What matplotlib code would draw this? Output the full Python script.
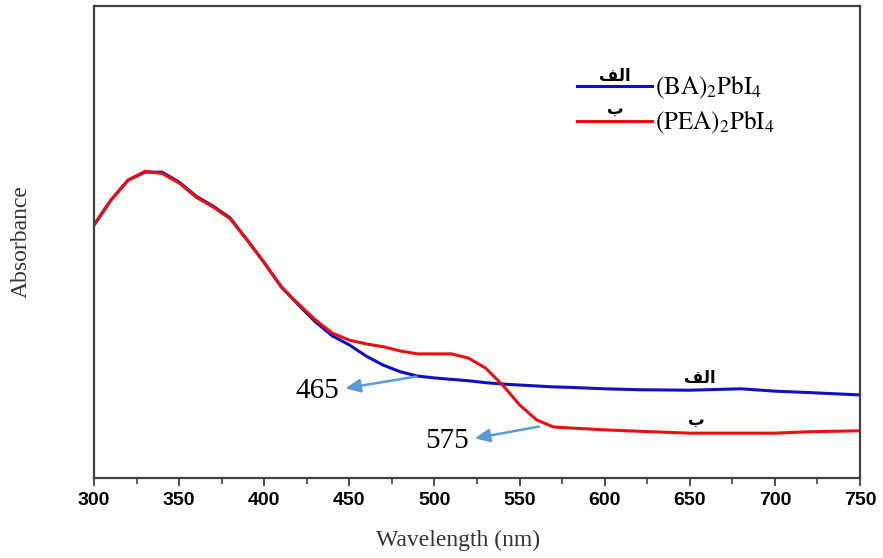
import matplotlib
matplotlib.use("Agg")
import matplotlib.pyplot as plt
from matplotlib.ticker import MultipleLocator

plt.rcParams['mathtext.fontset'] = 'stix'

wl = [300, 310, 320, 330, 340, 350, 360, 370, 380, 390, 400, 410, 420, 430,
      440, 450, 460, 470, 480, 490, 500, 510, 520, 530, 540, 550, 560, 570,
      580, 600, 620, 650, 680, 700, 720, 750]
abs_ba = [0.536, 0.589, 0.631, 0.648, 0.648, 0.627, 0.597, 0.576, 0.551, 0.504,
          0.456, 0.405, 0.367, 0.331, 0.301, 0.282, 0.258, 0.239, 0.225, 0.216,
          0.212, 0.209, 0.206, 0.202, 0.199, 0.197, 0.195, 0.193,
          0.192, 0.189, 0.187, 0.186, 0.189, 0.184, 0.181, 0.176]
abs_pea = [0.536, 0.589, 0.631, 0.650, 0.645, 0.625, 0.595, 0.574, 0.549, 0.504,
           0.456, 0.405, 0.369, 0.335, 0.307, 0.292, 0.284, 0.278, 0.269, 0.263,
           0.263, 0.263, 0.254, 0.233, 0.197, 0.155, 0.123, 0.108,
           0.106, 0.102, 0.099, 0.095, 0.095, 0.095, 0.098, 0.100]

label_ba = r'$\mathrm{(BA)_2PbI_4}$'
label_pea = r'$\mathrm{(PEA)_2PbI_4}$'
tag_ba = '\uFED2\uFEDF\uFE8D'   # الف (shaped)
tag_pea = '\uFE8F'              # ب

peak1_text, peak1_from, peak1_to = '465', (491, 0.216), (446, 0.189)
peak2_text, peak2_from, peak2_to = '575', (563, 0.110), (522, 0.083)

xticks = [300, 350, 400, 450, 500, 550, 600, 650, 700, 750]

fig = plt.figure(figsize=(8.83, 5.58), dpi=100)
ax = fig.add_axes([94/883, 80/558, 766/883, 472/558])

ax.plot(wl, abs_ba, color='#1010c0', lw=2.2, label=label_ba)
ax.plot(wl, abs_pea, color='#e81010', lw=2.2, label=label_pea)

ax.set_xlim(300, 750)
ax.set_ylim(0, 1)
ax.set_xticks(xticks)
ax.xaxis.set_minor_locator(MultipleLocator(25))
ax.set_yticks([])
for s in ax.spines.values():
    s.set_color('#404040')
    s.set_linewidth(1.6)
ax.tick_params(axis='x', which='major', direction='out', length=6, width=1.3,
               color='#404040', pad=4)
ax.tick_params(axis='x', which='minor', direction='out', length=4, width=1.2,
               color='#404040')
for lab in ax.get_xticklabels():
    lab.set_fontfamily('Liberation Sans')
    lab.set_fontweight('bold')
    lab.set_fontsize(14)

ax.set_xlabel('Wavelength (nm)', fontfamily='Liberation Serif', fontsize=17,
              color='#333333')
ax.xaxis.set_label_coords(0.475, -0.11)
ax.set_ylabel('Absorbance', fontfamily='Liberation Serif', fontsize=17,
              color='#333333')
ax.yaxis.set_label_coords(-0.081, 0.5)

arrow_kw = dict(arrowstyle='-|>,head_length=0.9,head_width=0.4', color='#5b9bd5', lw=1.8)
ax.annotate('', xy=peak1_to, xytext=peak1_from, arrowprops=arrow_kw)
ax.annotate('', xy=peak2_to, xytext=peak2_from, arrowprops=arrow_kw)
ax.text(peak1_to[0] - 2, peak1_to[1] - 0.004, peak1_text, ha='right', va='center',
        fontfamily='Liberation Serif', fontsize=21)
ax.text(peak2_to[0] - 2, peak2_to[1] - 0.004, peak2_text, ha='right', va='center',
        fontfamily='Liberation Serif', fontsize=21)

ax.text(656, 0.212, tag_ba, ha='center', va='center', fontfamily='DejaVu Sans',
        fontsize=12, fontweight='bold')
ax.text(654, 0.123, tag_pea, ha='center', va='center', fontfamily='DejaVu Sans',
        fontsize=12, fontweight='bold')

leg = ax.legend(loc='upper left', bbox_to_anchor=(0.624, 0.866), frameon=False,
                handlelength=3.0, handletextpad=0.12, labelspacing=0.3,
                borderaxespad=0, borderpad=0.2,
                prop={'family': 'STIXGeneral', 'size': 18})
ax.text(0.68, 0.852, tag_ba, transform=ax.transAxes, ha='center', va='center',
        fontfamily='DejaVu Sans', fontsize=12, fontweight='bold')
ax.text(0.68, 0.782, tag_pea, transform=ax.transAxes, ha='center', va='center',
        fontfamily='DejaVu Sans', fontsize=12, fontweight='bold')

fig.savefig('out.png', dpi=100)
